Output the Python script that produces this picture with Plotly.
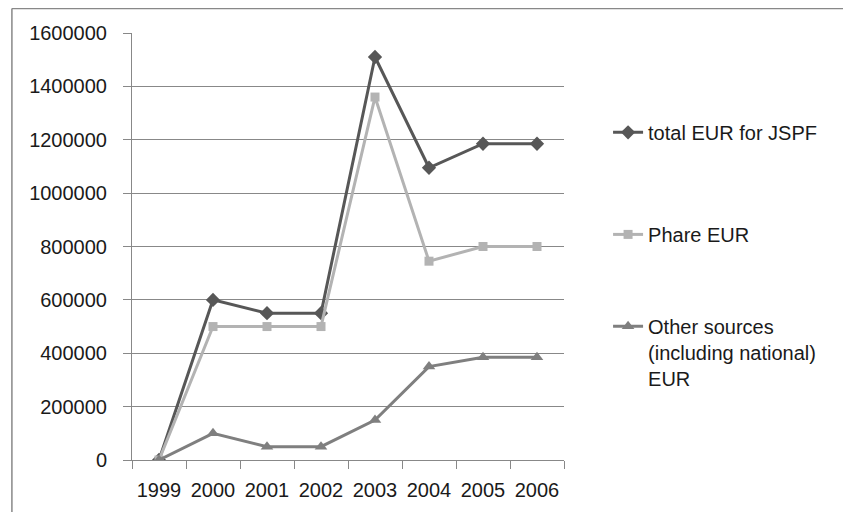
import plotly.graph_objects as go

years = ["1999", "2000", "2001", "2002", "2003", "2004", "2005", "2006"]
total_eur = [0, 600000, 550000, 550000, 1510000, 1095000, 1185000, 1185000]
phare_eur = [0, 500000, 500000, 500000, 1360000, 745000, 800000, 800000]
other_eur = [0, 100000, 50000, 50000, 150000, 350000, 385000, 385000]
y_ticks = [0, 200000, 400000, 600000, 800000, 1000000, 1200000, 1400000, 1600000]

FONT = "Liberation Sans"
GRID = "#888888"
TXT = "#1a1a1a"

fig = go.Figure()
fig.add_trace(go.Scatter(
    x=years, y=total_eur, name="total EUR for JSPF", mode="lines+markers",
    line=dict(color="#575757", width=3),
    marker=dict(symbol="diamond", size=11, color="#575757"),
    legend="legend",
))
fig.add_trace(go.Scatter(
    x=years, y=phare_eur, name="Phare EUR", mode="lines+markers",
    line=dict(color="#b3b3b3", width=3),
    marker=dict(symbol="square", size=9, color="#b3b3b3"),
    legend="legend2",
))
fig.add_trace(go.Scatter(
    x=years, y=other_eur, name="Other sources<br>(including national)<br>EUR",
    mode="lines+markers",
    line=dict(color="#7f7f7f", width=3),
    marker=dict(symbol="triangle-up", size=11, color="#7f7f7f"),
    legend="legend3",
))

def leg(y):
    return dict(
        x=1.102, xanchor="left", y=y, yanchor="top", valign="top",
        font=dict(family=FONT, size=20, color=TXT),
        bgcolor="rgba(0,0,0,0)",
    )

fig.update_layout(
    width=843, height=504,
    margin=dict(l=124, r=287, t=25, b=52),
    paper_bgcolor="white", plot_bgcolor="white",
    font=dict(family=FONT, size=20, color=TXT),
    showlegend=True,
    legend=leg(0.813),
    legend2=leg(0.574),
    legend3=leg(0.359),
    xaxis=dict(
        type="category", categoryorder="array", categoryarray=years,
        tickson="boundaries", ticks="outside", ticklen=8, tickcolor=GRID,
        showgrid=False, showline=True, linecolor=GRID, linewidth=1,
        ticklabelstandoff=12, range=[-0.5, 7.5], fixedrange=True,
    ),
    yaxis=dict(
        range=[0, 1600000], tickvals=y_ticks,
        ticktext=[str(v) for v in y_ticks],
        ticks="outside", ticklen=8, tickcolor=GRID,
        showgrid=True, gridcolor=GRID, gridwidth=1,
        showline=True, linecolor=GRID, linewidth=1,
        zeroline=False, ticklabelstandoff=12,
    ),
    shapes=[
        dict(type="line", xref="paper", yref="paper", x0=-0.278, x1=1.8,
             y0=1.0575, y1=1.0575, line=dict(color="#888888", width=1.5)),
        dict(type="line", xref="paper", yref="paper", x0=-0.278, x1=-0.278,
             y0=-0.2, y1=1.0575, line=dict(color="#888888", width=1.5)),
    ],
)

fig.write_html("out.html")
